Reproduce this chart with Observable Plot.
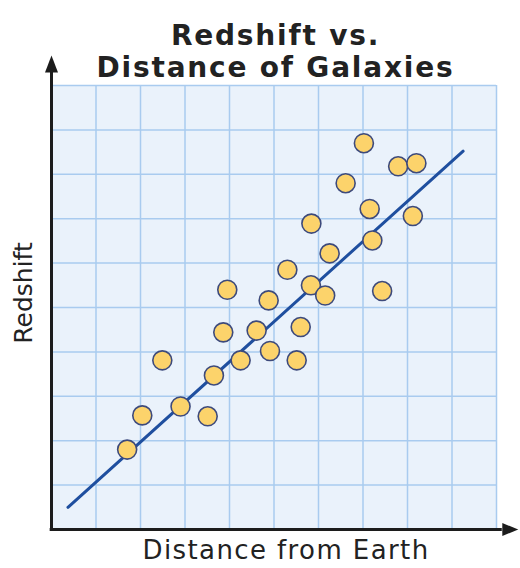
<!DOCTYPE html>
<html>
<head>
<meta charset="utf-8">
<script src="https://cdn.jsdelivr.net/npm/d3@7"></script>
<script src="https://cdn.jsdelivr.net/npm/@observablehq/plot@0.6"></script>
<style>
  html, body { margin: 0; padding: 0; background: #ffffff; }
  .title-text text { letter-spacing: 1.8px; }
  .xlabel-text text { letter-spacing: 1.4px; }
</style>
</head>
<body>
<div id="chart"></div>
<script>
// ---- Data ----
const distance = [1.70, 2.04, 2.49, 2.90, 3.51, 3.65, 3.86, 3.95, 4.25, 4.61, 4.88, 4.91, 5.30, 5.51, 5.60, 5.83, 5.84, 6.15, 6.25, 6.61, 7.02, 7.15, 7.21, 7.43, 7.79, 8.12, 8.20];
const redshift = [1.80, 2.57, 3.81, 2.77, 2.55, 3.47, 4.44, 5.40, 3.81, 4.48, 5.16, 4.02, 5.85, 3.81, 4.56, 5.50, 6.89, 5.27, 6.22, 7.80, 8.70, 7.22, 6.51, 5.37, 8.18, 7.06, 8.25];
const fitX = [0.37, 9.25];
const fitY = [0.50, 8.52];
const gridTicks = [0, 1, 2, 3, 4, 5, 6, 7, 8, 9, 10];
const titleLines = ["Redshift vs.", "Distance of Galaxies"];
const xLabel = "Distance from Earth";
const yLabel = "Redshift";

const points = distance.map((d, i) => ({x: d, y: redshift[i]}));
const fit = fitX.map((d, i) => ({x: d, y: fitY[i]}));

const axisColor = "#1c1c1c";
const gridColor = "#a9cbef";

const chart = Plot.plot({
  width: 520,
  height: 568,
  marginLeft: 51,
  marginRight: 24,
  marginTop: 85,
  marginBottom: 39,
  x: {domain: [0, 10], axis: null},
  y: {domain: [0, 10], axis: null},
  style: {fontFamily: "'DejaVu Sans', sans-serif", color: "#222", background: "#ffffff", overflow: "visible"},
  marks: [
    Plot.rect([0], {x1: 0, x2: 10, y1: 0, y2: 10, fill: "#eaf2fb"}),
    Plot.ruleX(gridTicks, {x: d => d, y1: 0, y2: 10, stroke: gridColor, strokeWidth: 1.5}),
    Plot.ruleY(gridTicks, {y: d => d, x1: 0, x2: 10, stroke: gridColor, strokeWidth: 1.5}),
    Plot.line(fit, {x: "x", y: "y", stroke: "#1f4f9f", strokeWidth: 3, strokeLinecap: "round"}),
    Plot.dot(points, {x: "x", y: "y", r: 9.5, fill: "#fcd36b", stroke: "#3d4a7c", strokeWidth: 1.6}),
    // axes with arrow heads
    Plot.ruleX([0], {x: d => d, y1: -0.03, y2: 10.29, stroke: axisColor, strokeWidth: 3}),
    Plot.ruleY([0], {y: d => d, x1: -0.03, x2: 10.13, stroke: axisColor, strokeWidth: 3}),
    Plot.vector([0], {x: 0, y: 10.29, length: 17, rotate: 0, shape: "spike", r: 6.5, anchor: "start", fill: axisColor, stroke: "none"}),
    Plot.vector([0], {x: 10.13, y: 0, length: 16, rotate: 90, shape: "spike", r: 6.5, anchor: "start", fill: axisColor, stroke: "none"}),
    // title
    Plot.text([titleLines.join("\n")], {className: "title-text", frameAnchor: "top", textAnchor: "middle", lineAnchor: "bottom", dy: -9, dx: 1.5, fontSize: 28, fontWeight: "bold", lineHeight: 1.143, fill: "#222"}),
    // axis labels
    Plot.text([xLabel], {className: "xlabel-text", frameAnchor: "bottom", textAnchor: "middle", lineAnchor: "bottom", dy: 29, dx: 12, fontSize: 26, fill: "#222"}),
    Plot.text([yLabel], {frameAnchor: "left", textAnchor: "middle", lineAnchor: "middle", rotate: -90, dx: -28, dy: -14.5, fontSize: 25, fill: "#222"})
  ]
});

document.getElementById("chart").appendChild(chart);
</script>
</body>
</html>
